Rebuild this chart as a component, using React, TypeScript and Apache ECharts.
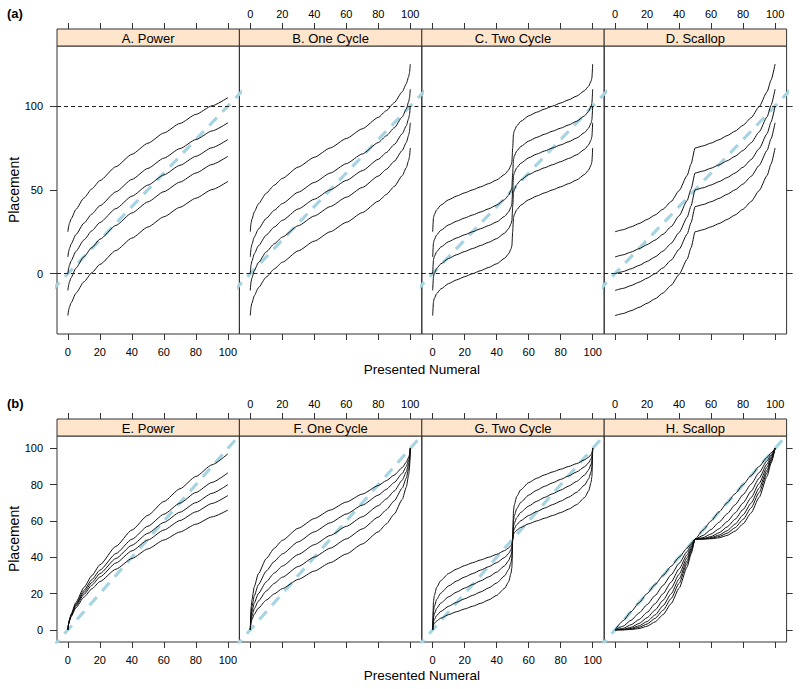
import React, { useEffect, useRef } from "react";
import * as echarts from "echarts";

// ---------- tick labels / reference values ----------
const xTicks = [0, 20, 40, 60, 80, 100];
const yTicksA = [0, 50, 100];
const yTicksB = [0, 20, 40, 60, 80, 100];
const refLine = [-10, 140]; // ends of the y = x reference line
const guideLevels = [0, 100];

// ---------- x grids ----------
const xPower = [0, 0.5, 1, 2, 5, 10, 15, 20, 30, 40, 50, 60, 70, 80, 90, 100];
const xOneCycle = [0, 0.5, 1, 2.5, 5, 10, 15, 20, 30, 40, 50, 60, 70, 80, 85, 90, 95, 97.5, 99, 99.5, 100];
const xTwoCycle = [0, 0.5, 1, 2.5, 5, 10, 15, 20, 25, 30, 35, 40, 45, 47.5, 49, 49.5, 50, 50.5, 51, 52.5, 55, 60, 65, 70, 75, 80, 85, 90, 95, 97.5, 99, 99.5, 100];
const xScallop = [0, 5, 10, 15, 20, 25, 30, 35, 40, 45, 47.5, 50, 55, 60, 65, 70, 75, 80, 85, 90, 95, 97.5, 100];

// ---------- (a) A. Power ----------
const powerA = [
  [25, 28.3, 30.1, 32.6, 38.3, 45.1, 50.6, 55.5, 63.8, 71.2, 77.8, 83.9, 89.6, 95.0, 100.1, 105.0],
  [10, 13.3, 15.1, 17.6, 23.3, 30.1, 35.6, 40.5, 48.8, 56.2, 62.8, 68.9, 74.6, 80.0, 85.1, 90.0],
  [0, 3.3, 5.1, 7.6, 13.3, 20.1, 25.6, 30.5, 38.8, 46.2, 52.8, 58.9, 64.6, 70.0, 75.1, 80.0],
  [-10, -6.7, -4.9, -2.4, 3.3, 10.1, 15.6, 20.5, 28.8, 36.2, 42.8, 48.9, 54.6, 60.0, 65.1, 70.0],
  [-25, -21.7, -19.9, -17.4, -11.7, -4.9, 0.6, 5.5, 13.8, 21.2, 27.8, 33.9, 39.6, 45.0, 50.1, 55.0],
];

// ---------- (a) B. One Cycle ----------
const oneCycleB = [
  [25, 30.2, 32.4, 36.8, 41.5, 48.0, 52.8, 56.8, 63.6, 69.4, 75, 80.6, 86.4, 93.2, 97.2, 102.0, 108.5, 113.2, 117.6, 119.8, 125],
  [10, 15.2, 17.4, 21.8, 26.5, 33.0, 37.8, 41.8, 48.6, 54.4, 60, 65.6, 71.4, 78.2, 82.2, 87.0, 93.5, 98.2, 102.6, 104.8, 110],
  [0, 5.2, 7.4, 11.8, 16.5, 23.0, 27.8, 31.8, 38.6, 44.4, 50, 55.6, 61.4, 68.2, 72.2, 77.0, 83.5, 88.2, 92.6, 94.8, 100],
  [-10, -4.8, -2.6, 1.8, 6.5, 13.0, 17.8, 21.8, 28.6, 34.4, 40, 45.6, 51.4, 58.2, 62.2, 67.0, 73.5, 78.2, 82.6, 84.8, 90],
  [-25, -19.8, -17.6, -13.2, -8.5, -2.0, 2.8, 6.8, 13.6, 19.4, 25, 30.6, 36.4, 43.2, 47.2, 52.0, 58.5, 63.2, 67.6, 69.8, 75],
];

// ---------- (a) C. Two Cycle ----------
const twoCycleC = [
  [25, 33.3, 35.2, 38.1, 40.8, 44.1, 46.3, 48.2, 50, 51.8, 53.7, 55.9, 59.2, 61.9, 64.8, 66.7, 75, 83.3, 85.2, 88.1, 90.8, 94.1, 96.3, 98.2, 100, 101.8, 103.7, 105.9, 109.2, 111.9, 114.8, 116.7, 125],
  [10, 18.3, 20.2, 23.1, 25.8, 29.1, 31.3, 33.2, 35, 36.8, 38.7, 40.9, 44.2, 46.9, 49.8, 51.7, 60, 68.3, 70.2, 73.1, 75.8, 79.1, 81.3, 83.2, 85, 86.8, 88.7, 90.9, 94.2, 96.9, 99.8, 101.7, 110],
  [0, 8.3, 10.2, 13.1, 15.8, 19.1, 21.3, 23.2, 25, 26.8, 28.7, 30.9, 34.2, 36.9, 39.8, 41.7, 50, 58.3, 60.2, 63.1, 65.8, 69.1, 71.3, 73.2, 75, 76.8, 78.7, 80.9, 84.2, 86.9, 89.8, 91.7, 100],
  [-10, -1.7, 0.2, 3.1, 5.8, 9.1, 11.3, 13.2, 15, 16.8, 18.7, 20.9, 24.2, 26.9, 29.8, 31.7, 40, 48.3, 50.2, 53.1, 55.8, 59.1, 61.3, 63.2, 65, 66.8, 68.7, 70.9, 74.2, 76.9, 79.8, 81.7, 90],
  [-25, -16.7, -14.8, -11.9, -9.2, -5.9, -3.7, -1.8, 0, 1.8, 3.7, 5.9, 9.2, 11.9, 14.8, 16.7, 25, 33.3, 35.2, 38.1, 40.8, 44.1, 46.3, 48.2, 50, 51.8, 53.7, 55.9, 59.2, 61.9, 64.8, 66.7, 75],
];

// ---------- (a) D. Scallop ----------
const scallopD = [
  [25, 26.2, 27.9, 29.9, 32.3, 35.0, 38.5, 43.0, 49.5, 58.5, 65.5, 75, 76.2, 77.9, 79.9, 82.3, 85.0, 88.5, 93.0, 99.5, 108.5, 115.5, 125],
  [10, 11.2, 12.9, 14.9, 17.3, 20.0, 23.5, 28.0, 34.5, 43.5, 50.5, 60, 61.2, 62.9, 64.9, 67.3, 70.0, 73.5, 78.0, 84.5, 93.5, 100.5, 110],
  [0, 1.2, 2.9, 4.9, 7.3, 10.0, 13.5, 18.0, 24.5, 33.5, 40.5, 50, 51.2, 52.9, 54.9, 57.3, 60.0, 63.5, 68.0, 74.5, 83.5, 90.5, 100],
  [-10, -8.8, -7.1, -5.1, -2.7, 0.0, 3.5, 8.0, 14.5, 23.5, 30.5, 40, 41.2, 42.9, 44.9, 47.3, 50.0, 53.5, 58.0, 64.5, 73.5, 80.5, 90],
  [-25, -23.8, -22.1, -20.1, -17.7, -15.0, -11.5, -7.0, -0.5, 8.5, 15.5, 25, 26.2, 27.9, 29.9, 32.3, 35.0, 38.5, 43.0, 49.5, 58.5, 65.5, 75],
];

// ---------- (b) E. Power ----------
const powerE = [
  [0, 3.6, 5.6, 8.6, 15.1, 23.3, 29.9, 35.8, 46.0, 55.0, 63.1, 70.7, 77.7, 84.5, 90.9, 97.0],
  [0, 3.6, 5.5, 8.3, 14.3, 21.7, 27.7, 32.9, 42.0, 49.9, 57.1, 63.7, 69.8, 75.7, 81.2, 86.5],
  [0, 3.5, 5.3, 8.0, 13.7, 20.6, 26.1, 31.0, 39.3, 46.6, 53.2, 59.2, 64.8, 70.1, 75.2, 80.0],
  [0, 3.4, 5.1, 7.7, 13.0, 19.5, 24.6, 29.1, 36.8, 43.5, 49.5, 55.0, 60.2, 65.0, 69.6, 74.0],
  [0, 3.3, 4.9, 7.2, 12.1, 18.0, 22.6, 26.6, 33.4, 39.3, 44.6, 49.5, 53.9, 58.2, 62.2, 66.0],
];

// ---------- (b) F. One Cycle ----------
const oneCycleF = [
  [0, 12.1, 16.3, 23.7, 30.8, 39.3, 44.9, 49.3, 56.0, 61.3, 66.0, 70.4, 74.8, 79.5, 82.2, 85.3, 89.4, 92.4, 95.1, 96.5, 100],
  [0, 9.3, 12.6, 18.7, 24.8, 32.4, 37.7, 41.8, 48.5, 54.0, 59.0, 63.8, 68.7, 74.2, 77.4, 81.2, 86.2, 90.0, 93.5, 95.3, 100],
  [0, 7.1, 9.8, 14.8, 19.9, 26.5, 31.3, 35.1, 41.5, 46.9, 52.0, 57.0, 62.3, 68.4, 72.1, 76.5, 82.5, 87.1, 91.5, 93.9, 100],
  [0, 5.5, 7.6, 11.6, 15.8, 21.4, 25.6, 29.0, 34.9, 40.1, 45.0, 50.1, 55.6, 62.1, 66.1, 71.1, 78.1, 83.6, 89.1, 92.0, 100],
  [0, 4.0, 5.6, 8.6, 11.9, 16.4, 19.8, 22.7, 27.8, 32.4, 37.0, 41.8, 47.3, 54.0, 58.3, 63.8, 71.9, 78.6, 85.4, 89.2, 100],
];

// ---------- (b) G. Two Cycle ----------
const twoCycleG = [
  [0, 15.6, 18.8, 23.4, 27.1, 31.1, 33.5, 35.4, 37.0, 38.5, 40.0, 41.6, 43.7, 45.1, 46.6, 47.4, 50, 65.6, 68.8, 73.4, 77.1, 81.1, 83.5, 85.4, 87.0, 88.5, 90.0, 91.6, 93.7, 95.1, 96.6, 97.4, 100],
  [0, 10.3, 12.8, 16.7, 20.2, 24.2, 26.9, 29.1, 31.0, 32.9, 34.8, 37.0, 39.9, 42.1, 44.3, 45.6, 50, 60.3, 62.8, 66.7, 70.2, 74.2, 76.9, 79.1, 81.0, 82.9, 84.8, 87.0, 89.9, 92.1, 94.3, 95.6, 100],
  [0, 6.9, 8.7, 11.8, 14.7, 18.2, 20.8, 23.0, 25.0, 27.0, 29.2, 31.8, 35.3, 38.2, 41.3, 43.1, 50, 56.9, 58.7, 61.8, 64.7, 68.2, 70.8, 73.0, 75.0, 77.0, 79.2, 81.8, 85.3, 88.2, 91.3, 93.1, 100],
  [0, 4.4, 5.7, 7.9, 10.1, 13.0, 15.2, 17.1, 19.0, 20.9, 23.1, 25.8, 29.8, 33.3, 37.2, 39.7, 50, 54.4, 55.7, 57.9, 60.1, 63.0, 65.2, 67.1, 69.0, 70.9, 73.1, 75.8, 79.8, 83.3, 87.2, 89.7, 100],
  [0, 2.7, 3.5, 4.9, 6.4, 8.4, 10.0, 11.5, 13.0, 14.6, 16.5, 19.0, 22.9, 26.6, 31.3, 34.4, 50, 52.7, 53.5, 54.9, 56.4, 58.4, 60.0, 61.5, 63.0, 64.6, 66.5, 69.0, 72.9, 76.6, 81.3, 84.4, 100],
];

// ---------- (b) H. Scallop ----------
const scallopH = [
  [0, 5, 10, 15, 20, 25, 30, 35, 40, 45, 47.5, 50, 55, 60, 65, 70, 75, 80, 85, 90, 95, 97.5, 100],
  [0, 2.0, 5.3, 9.3, 13.9, 18.9, 24.5, 30.3, 36.6, 43.1, 46.5, 50, 52.0, 55.3, 59.3, 63.9, 68.9, 74.5, 80.3, 86.6, 93.1, 96.5, 100],
  [0, 0.8, 2.8, 5.7, 9.6, 14.4, 19.9, 26.3, 33.5, 41.4, 45.6, 50, 50.8, 52.8, 55.7, 59.6, 64.4, 69.9, 76.3, 83.5, 91.4, 95.6, 100],
  [0, 0.3, 1.4, 3.5, 6.7, 10.9, 16.3, 22.8, 30.6, 39.7, 44.7, 50, 50.3, 51.4, 53.5, 56.7, 60.9, 66.3, 72.8, 80.6, 89.7, 94.7, 100],
  [0, 0.1, 0.8, 2.2, 4.6, 8.2, 13.3, 19.8, 28.0, 38.0, 43.8, 50, 50.1, 50.8, 52.2, 54.6, 58.2, 63.3, 69.8, 78.0, 88.0, 93.8, 100],
  [0, 0.1, 0.4, 1.4, 3.2, 6.3, 10.8, 17.2, 25.6, 36.5, 42.9, 50, 50.1, 50.4, 51.4, 53.2, 56.3, 60.8, 67.2, 75.6, 86.5, 92.9, 100],
  [0, 0, 0.2, 0.7, 2.0, 4.4, 8.4, 14.4, 22.9, 34.6, 41.8, 50, 50, 50.2, 50.7, 52.0, 54.4, 58.4, 64.4, 72.9, 84.6, 91.8, 100],
];

const panelTitles = ["A. Power", "B. One Cycle", "C. Two Cycle", "D. Scallop", "E. Power", "F. One Cycle", "G. Two Cycle", "H. Scallop"];
const panelX = [xPower, xOneCycle, xTwoCycle, xScallop, xPower, xOneCycle, xTwoCycle, xScallop];
const panelCurves = [powerA, oneCycleB, twoCycleC, scallopD, powerE, oneCycleF, twoCycleG, scallopH];

// ---------- layout ----------
const FONT = "'Liberation Sans', Arial, Helvetica, sans-serif";
const PANEL_LEFT = 57;
const PANEL_W = 182.4;
const STRIP_H = 17;
const X_MIN = -6.8;
const X_MAX = 107.2;
const FRAME = "#333";
const rows = [
  { top: 46, height: 288, yMin: -36, yMax: 135.8, yTicks: yTicksA, guides: true, tag: "(a)", tagY: 13, xTitleY: 369 },
  { top: 436, height: 206, yMin: -6.7, yMax: 106.8, yTicks: yTicksB, guides: false, tag: "(b)", tagY: 403, xTitleY: 675 },
];

function buildOption() {
  const grid: any[] = [];
  const xAxis: any[] = [];
  const yAxis: any[] = [];
  const series: any[] = [];
  const graphic: any[] = [];

  for (let p = 0; p < 8; p++) {
    const r = Math.floor(p / 4);
    const c = p % 4;
    const row = rows[r];
    const left = PANEL_LEFT + c * PANEL_W;
    grid.push({
      left,
      top: row.top,
      width: PANEL_W,
      height: row.height,
      show: true,
      borderColor: FRAME,
      borderWidth: 1,
      backgroundColor: "transparent",
      containLabel: false,
    });
    const xi = xAxis.length;
    xAxis.push({
      gridIndex: p,
      type: "value",
      min: X_MIN,
      max: X_MAX,
      position: "bottom",
      axisLine: { show: false, onZero: false },
      axisTick: { show: true, length: 6, customValues: xTicks, lineStyle: { color: FRAME, width: 1 } },
      axisLabel: { show: c % 2 === 0, customValues: xTicks, margin: 12, fontSize: 11, color: "#000", fontFamily: FONT },
      splitLine: { show: false },
    });
    xAxis.push({
      gridIndex: p,
      type: "value",
      min: X_MIN,
      max: X_MAX,
      position: "top",
      offset: STRIP_H,
      axisLine: { show: false, onZero: false },
      axisTick: { show: true, length: 6, customValues: xTicks, lineStyle: { color: FRAME, width: 1 } },
      axisLabel: { show: c % 2 === 1, customValues: xTicks, margin: 10, fontSize: 11, color: "#000", fontFamily: FONT },
      splitLine: { show: false },
    });
    const yi = yAxis.length;
    yAxis.push({
      gridIndex: p,
      type: "value",
      min: row.yMin,
      max: row.yMax,
      position: "left",
      axisLine: { show: false, onZero: false },
      axisTick: { show: c === 0, length: 7, customValues: row.yTicks, lineStyle: { color: FRAME, width: 1 } },
      axisLabel: { show: c === 0, customValues: row.yTicks, margin: 14, fontSize: 11, color: "#000", fontFamily: FONT },
      splitLine: { show: false },
    });
    if (c === 3) {
      yAxis.push({
        gridIndex: p,
        type: "value",
        min: row.yMin,
        max: row.yMax,
        position: "right",
        axisLine: { show: false, onZero: false },
        axisTick: { show: true, length: 6, customValues: row.yTicks, lineStyle: { color: FRAME, width: 1 } },
        axisLabel: { show: false },
        splitLine: { show: false },
      });
    }

    // reference y = x line (and guide lines at 0 / 100 in row a)
    series.push({
      type: "line",
      xAxisIndex: xi,
      yAxisIndex: yi,
      data: refLine.map((v) => [v, v]),
      symbol: "none",
      silent: true,
      clip: true,
      z: 1,
      lineStyle: { color: "#a6d4e3", width: 3.2, type: [11, 8] },
      markLine: row.guides
        ? {
            silent: true,
            symbol: ["none", "none"],
            label: { show: false },
            lineStyle: { color: "#222", width: 1, type: [4, 3] },
            data: guideLevels.map((v) => ({ yAxis: v })),
          }
        : undefined,
    });

    panelCurves[p].forEach((curve) => {
      series.push({
        type: "line",
        xAxisIndex: xi,
        yAxisIndex: yi,
        data: panelX[p].map((x, k) => [x, curve[k]]),
        symbol: "none",
        silent: true,
        clip: true,
        z: 3,
        smooth: 0.2,
        smoothMonotone: "x",
        lineStyle: { color: "#111", width: 1 },
      });
    });

    // strip
    graphic.push({
      type: "rect",
      z: 10,
      shape: { x: left, y: row.top - STRIP_H, width: PANEL_W, height: STRIP_H },
      style: { fill: "#ffe5cc", stroke: FRAME, lineWidth: 1 },
    });
    graphic.push({
      type: "text",
      z: 11,
      x: left + PANEL_W / 2,
      y: row.top - STRIP_H / 2 + 0.5,
      style: { text: panelTitles[p], font: `13px ${FONT}`, fill: "#000", align: "center", verticalAlign: "middle" },
    });
  }

  rows.forEach((row) => {
    graphic.push({
      type: "text",
      x: 7,
      y: row.tagY,
      style: { text: row.tag, font: `bold 13px ${FONT}`, fill: "#000", align: "left", verticalAlign: "middle" },
    });
    graphic.push({
      type: "text",
      x: 14,
      y: row.top + row.height / 2,
      rotation: Math.PI / 2,
      style: { text: "Placement", font: `14px ${FONT}`, fill: "#000", align: "center", verticalAlign: "middle" },
    });
    graphic.push({
      type: "text",
      x: PANEL_LEFT + 2 * PANEL_W,
      y: row.xTitleY,
      style: { text: "Presented Numeral", font: `13.5px ${FONT}`, fill: "#000", align: "center", verticalAlign: "middle" },
    });
  });

  return {
    animation: false,
    backgroundColor: "#fff",
    grid,
    xAxis,
    yAxis,
    series,
    graphic,
  };
}

export default function App() {
  const ref = useRef<HTMLDivElement>(null);
  useEffect(() => {
    const chart = echarts.init(ref.current!, null, { renderer: "svg" });
    chart.setOption(buildOption() as any);
    return () => chart.dispose();
  }, []);
  return (
    <div
      ref={ref}
      style={{ position: "fixed", left: 0, top: 0, width: 800, height: 689, background: "#fff" }}
    />
  );
}
